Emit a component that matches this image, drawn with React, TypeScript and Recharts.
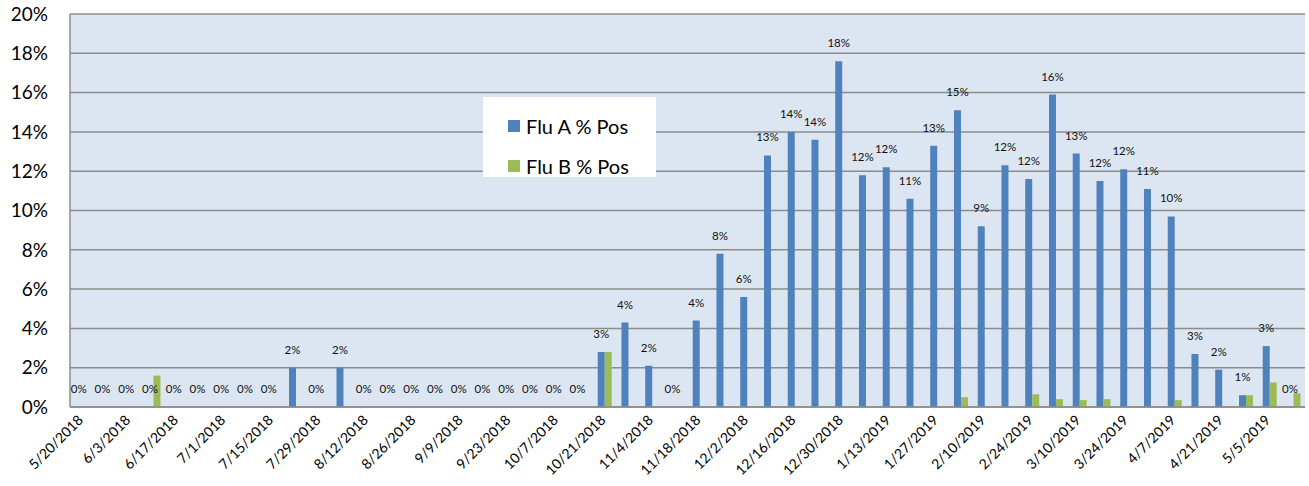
import { BarChart, Bar, XAxis, YAxis, CartesianGrid, Legend, LabelList } from "recharts";

// ---------------------------------------------------------------------------
// Data
// ---------------------------------------------------------------------------

const weeks = [
  "5/20/2018", "5/27/2018", "6/3/2018", "6/10/2018", "6/17/2018", "6/24/2018",
  "7/1/2018", "7/8/2018", "7/15/2018", "7/22/2018", "7/29/2018", "8/5/2018",
  "8/12/2018", "8/19/2018", "8/26/2018", "9/2/2018", "9/9/2018", "9/16/2018",
  "9/23/2018", "9/30/2018", "10/7/2018", "10/14/2018", "10/21/2018", "10/28/2018",
  "11/4/2018", "11/11/2018", "11/18/2018", "11/25/2018", "12/2/2018", "12/9/2018",
  "12/16/2018", "12/23/2018", "12/30/2018", "1/6/2019", "1/13/2019", "1/20/2019",
  "1/27/2019", "2/3/2019", "2/10/2019", "2/17/2019", "2/24/2019", "3/3/2019",
  "3/10/2019", "3/17/2019", "3/24/2019", "3/31/2019", "4/7/2019", "4/14/2019",
  "4/21/2019", "4/28/2019", "5/5/2019", "5/12/2019",
];

const fluA = [
  0, 0, 0, 0, 0, 0, 0, 0, 0, 2.0, 0, 2.0,
  0, 0, 0, 0, 0, 0, 0, 0, 0, 0, 2.8, 4.3,
  2.1, 0, 4.4, 7.8, 5.6, 12.8, 14.0, 13.6, 17.6, 11.8, 12.2, 10.6,
  13.3, 15.1, 9.2, 12.3, 11.6, 15.9, 12.9, 11.5, 12.1, 11.1, 9.7, 2.7,
  1.9, 0.6, 3.1, 0,
];

const fluB = [
  0, 0, 0, 1.6, 0, 0, 0, 0, 0, 0, 0, 0,
  0, 0, 0, 0, 0, 0, 0, 0, 0, 0, 2.8, 0,
  0, 0, 0, 0, 0, 0, 0, 0, 0, 0, 0, 0,
  0, 0.5, 0, 0, 0.65, 0.4, 0.35, 0.4, 0, 0, 0.35, 0,
  0, 0.6, 1.25, 0.7,
];

const yTicks = [0, 2, 4, 6, 8, 10, 12, 14, 16, 18, 20];

const data = weeks.map((week, i) => ({ week, fluA: fluA[i], fluB: fluB[i] }));

// ---------------------------------------------------------------------------
// Style
// ---------------------------------------------------------------------------

const FONT = "Lato, 'Liberation Sans', sans-serif";
const BLUE = "#4f81bd";
const GREEN = "#9bbb59";
const GRID = "#8c8c8c";

function WeekTick({ x, y, payload }: any) {
  return (
    <g transform={`translate(${x + 2},${y + 6})`}>
      <text
        textAnchor="end"
        transform="rotate(-45)"
        fontSize={14}
        fontFamily={FONT}
        fill="#000"
      >
        {payload.value}
      </text>
    </g>
  );
}

// Flu A value label, drawn for every week (zeros included)
function PctLabel({ x, y, width, value }: any) {
  if (value == null) return null;
  return (
    <text
      x={Number(x) + Number(width) / 2}
      y={Number(y) - 14}
      textAnchor="middle"
      fontSize={11.5}
      fontFamily={FONT}
      fill="#111"
    >
      {`${Math.round(Number(value))}%`}
    </text>
  );
}

function LegendBox() {
  const items = [
    { name: "Flu A % Pos", color: BLUE },
    { name: "Flu B % Pos", color: GREEN },
  ];
  return (
    <div
      style={{
        background: "#fff",
        width: 173,
        height: 80,
        boxSizing: "border-box",
        paddingTop: 9,
        paddingLeft: 25,
        fontFamily: FONT,
        fontSize: 20,
        color: "#000",
      }}
    >
      {items.map((it) => (
        <div key={it.name} style={{ display: "flex", alignItems: "center", height: 40 }}>
          <span
            style={{ width: 12, height: 12, background: it.color, marginRight: 6, display: "inline-block" }}
          />
          <span>{it.name}</span>
        </div>
      ))}
    </div>
  );
}

export default function App() {
  return (
    <div style={{ position: "absolute", left: 0, top: 0, width: 1309, height: 486, background: "#fff" }}>
      <BarChart
        width={1309}
        height={486}
        data={data}
        margin={{ top: 14, right: 4, left: 0, bottom: 0 }}
        barCategoryGap="22%"
        barGap={0}
      >
        <CartesianGrid vertical={false} stroke={GRID} strokeWidth={1.5} fill="#dce6f2" fillOpacity={1} />
        <XAxis
          dataKey="week"
          interval={1}
          height={79}
          tickLine={false}
          axisLine={{ stroke: GRID, strokeWidth: 1.5 }}
          tick={<WeekTick />}
        />
        <YAxis
          width={70}
          domain={[0, 20]}
          ticks={yTicks}
          tickSize={0}
          tickMargin={22}
          tickLine={false}
          axisLine={{ stroke: GRID, strokeWidth: 1.5 }}
          tickFormatter={(v: number) => `${v}%`}
          tick={{ fontSize: 19, fontFamily: FONT, fill: "#000" }}
        />
        <Legend
          layout="vertical"
          align="center"
          verticalAlign="middle"
          content={<LegendBox />}
          wrapperStyle={{ left: 483, top: 97, width: 173, height: 80 }}
        />
        <Bar dataKey="fluA" name="Flu A % Pos" fill={BLUE} minPointSize={0.01} isAnimationActive={false}>
          <LabelList dataKey="fluA" content={<PctLabel />} />
        </Bar>
        <Bar dataKey="fluB" name="Flu B % Pos" fill={GREEN} isAnimationActive={false} />
      </BarChart>
    </div>
  );
}
